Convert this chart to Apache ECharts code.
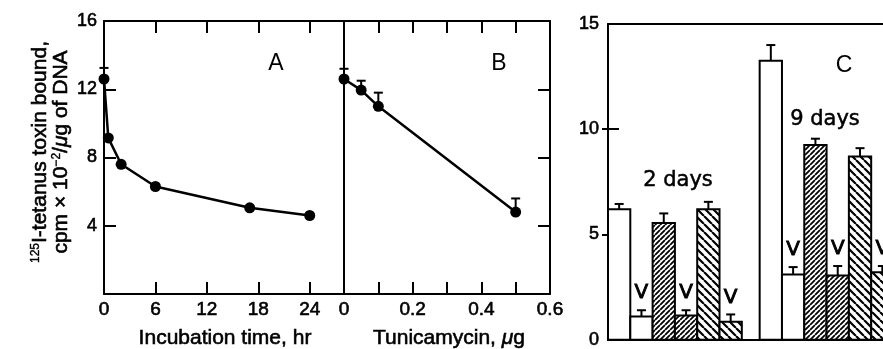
<!DOCTYPE html>
<html>
<head>
<meta charset="utf-8">
<script src="https://cdn.jsdelivr.net/npm/echarts@6/dist/echarts.min.js"></script>
<style>
  html, body { margin: 0; padding: 0; background: #fff; }
  #main { width: 883px; height: 349px; }
</style>
</head>
<body>
<div id="main"></div>
<script>
// panel A: toxin bound vs incubation time (hr)
const timeHr = [0, 0.5, 2, 6, 17, 24];
const boundA = [12.6, 9.15, 7.6, 6.3, 5.05, 4.6];
const errTopA = [13.25, null, null, null, null, null];

// panel B: toxin bound vs tunicamycin (ug)
const tunicamycinUg = [0, 0.05, 0.1, 0.5];
const boundB = [12.6, 11.95, 11.0, 4.8];
const errTopB = [13.2, 12.5, 11.8, 5.6];

// tick labels
const ticksAx = [0, 6, 12, 18, 24];
const ticksBx = [0, 0.2, 0.4, 0.6];
const ticksABy = [4, 8, 12, 16];
const ticksCy = [0, 5, 10, 15];

// panel C: bars, 2 days and 9 days
const dayGroups = ['2 days', '9 days'];
const bars2d = [6.2, 1.1, 5.55, 1.15, 6.2, 0.85];
const errTop2d = [6.45, 1.4, 6.0, 1.4, 6.55, 1.2];
const bars9d = [13.25, 3.1, 9.25, 3.05, 8.7, 3.2];
const errTop9d = [14.0, 3.45, 9.55, 3.5, 9.1, 3.5];
const barFills = ['open', 'open', 'dense', 'dense', 'sparse', 'sparse'];
const barMarks = ['', 'V', '', 'V', '', 'V'];

const FONT = '"Liberation Sans", Arial, sans-serif';
const DJ = '"DejaVu Sans", sans-serif';
const INK = '#000';
const lineStyle = { color: INK, width: 2 };
// a thin outline makes the regular face look like the heavier print
const heavy = { textBorderColor: INK, textBorderWidth: 0.6 };   // axis labels
const heavyG = { stroke: INK, lineWidth: 0.6 };                 // graphic / custom text

// hatch tiles for the bar fills
function hatch(step, width, dir) {
  const c = document.createElement('canvas');
  c.width = step; c.height = step;
  const g = c.getContext('2d');
  g.fillStyle = '#fff';
  g.fillRect(0, 0, step, step);
  g.strokeStyle = INK;
  g.lineWidth = width;
  g.beginPath();
  for (let k = -1; k <= 1; k++) {
    if (dir > 0) { g.moveTo(k * step, step); g.lineTo(k * step + step, 0); }
    else { g.moveTo(k * step, 0); g.lineTo(k * step + step, step); }
  }
  g.stroke();
  return c;
}
const fills = {
  open: '#fff',
  dense: { image: hatch(5, 1.8, 1), repeat: 'repeat' },
  sparse: { image: hatch(8, 2.2, -1), repeat: 'repeat' }
};

function xAx(grid, min, max, pos, ticks, labels) {
  return {
    gridIndex: grid, type: 'value', min: min, max: max, position: pos,
    axisLine: { show: true, onZero: false, lineStyle: lineStyle },
    axisTick: ticks ? { show: true, inside: true, length: 12, customValues: ticks, lineStyle: lineStyle } : { show: false },
    axisLabel: labels ? Object.assign({ show: true, customValues: labels, margin: 6, color: INK, fontSize: 19, fontFamily: FONT }, heavy) : { show: false },
    splitLine: { show: false }
  };
}

function yAx(grid, max, pos, line, ticks, labels, opts) {
  const o = opts || {};
  return {
    gridIndex: grid, type: 'value', min: 0, max: max, position: pos,
    axisLine: { show: line, onZero: false, lineStyle: lineStyle },
    axisTick: ticks ? { show: true, inside: !o.outside, length: o.len || 12, customValues: ticks, lineStyle: lineStyle } : { show: false },
    axisLabel: labels ? Object.assign({ show: true, customValues: labels, margin: o.margin || 7, color: INK, fontSize: 18, fontFamily: FONT,
      verticalAlignMinLabel: 'middle' }, heavy) : { show: false },
    splitLine: { show: false }
  };
}

function errorBars(xs, ys, tops, xi, yi) {
  const data = [];
  xs.forEach((x, i) => { if (tops[i] != null) data.push([x, ys[i], tops[i]]); });
  return {
    type: 'custom', xAxisIndex: xi, yAxisIndex: yi, clip: false, z: 3,
    data: data,
    renderItem: (params, api) => {
      const p = api.coord([api.value(0), api.value(1)]);
      const t = api.coord([api.value(0), api.value(2)]);
      return {
        type: 'group', children: [
          { type: 'line', shape: { x1: p[0], y1: p[1], x2: t[0], y2: t[1] }, style: { stroke: INK, lineWidth: 2 } },
          { type: 'line', shape: { x1: t[0] - 4.5, y1: t[1], x2: t[0] + 4.5, y2: t[1] }, style: { stroke: INK, lineWidth: 2 } }
        ]
      };
    }
  };
}

function pointLine(xs, ys, xi, yi) {
  return {
    type: 'line', xAxisIndex: xi, yAxisIndex: yi, clip: false, z: 4,
    data: xs.map((x, i) => [x, ys[i]]),
    symbol: 'circle', symbolSize: 11,
    lineStyle: { color: INK, width: 2.5 },
    itemStyle: { color: INK }
  };
}

// bars of panel C, one unit wide each, groups side by side
const groupStart = [0, 6.8];
const barData = [];
[[bars2d, errTop2d], [bars9d, errTop9d]].forEach((grp, g) => {
  grp[0].forEach((v, i) => barData.push([groupStart[g] + i, v, grp[1][i], i]));
});

function label(x, y, text, size, family, extra) {
  return { type: 'text', x: x, y: y,
    style: Object.assign({ text: text, fill: INK, fontSize: size, fontFamily: family, align: 'center', verticalAlign: 'middle' }, extra || {}) };
}

const chart = echarts.init(document.getElementById('main'));
chart.setOption({
  animation: false,
  backgroundColor: '#fff',
  grid: [
    { left: 104, top: 21, width: 240, height: 273 },
    { left: 344, top: 21, width: 206, height: 273 },
    { left: 608, top: 24, width: 275, height: 323 }
  ],
  xAxis: [
    xAx(0, 0, 28, 'bottom', [6, 12, 18, 24], ticksAx),
    xAx(0, 0, 28, 'top', [6, 12, 18, 24], null),
    xAx(1, 0, 0.6, 'bottom', [0.1, 0.2, 0.3, 0.4, 0.5], ticksBx),
    xAx(1, 0, 0.6, 'top', [0.1, 0.2, 0.3, 0.4, 0.5], null),
    xAx(2, 0, 12.33, 'bottom', null, null),
    xAx(2, 0, 12.33, 'top', null, null)
  ],
  yAxis: [
    yAx(0, 16, 'left', true, [4, 8, 12], ticksABy),
    yAx(1, 16, 'right', true, [4, 8, 12], null),
    yAx(1, 16, 'left', true, null, null),
    yAx(2, 15, 'left', true, [5, 10], ticksCy, { len: 11, margin: 9 }),
    yAx(2, 15, 'left', false, [5, 10], null, { len: 6, outside: true })
  ],
  series: [
    errorBars(timeHr, boundA, errTopA, 0, 0),
    pointLine(timeHr, boundA, 0, 0),
    errorBars(tunicamycinUg, boundB, errTopB, 2, 1),
    pointLine(tunicamycinUg, boundB, 2, 1),
    {
      type: 'custom', xAxisIndex: 4, yAxisIndex: 3, clip: false,
      data: barData,
      renderItem: (params, api) => {
        const x = api.value(0), v = api.value(1), top = api.value(2), k = api.value(3);
        const p0 = api.coord([x, 0]);
        const p1 = api.coord([x + 1, v]);
        const pe = api.coord([x + 0.5, top]);
        const xc = pe[0];
        const kids = [
          { type: 'rect', shape: { x: p0[0], y: p1[1], width: p1[0] - p0[0], height: p0[1] - p1[1] },
            style: { fill: fills[barFills[k]], stroke: INK, lineWidth: 2 } },
          { type: 'line', shape: { x1: xc, y1: p1[1], x2: xc, y2: pe[1] }, style: { stroke: INK, lineWidth: 2 } },
          { type: 'line', shape: { x1: xc - 4.5, y1: pe[1], x2: xc + 4.5, y2: pe[1] }, style: { stroke: INK, lineWidth: 2 } }
        ];
        if (barMarks[k]) {
          kids.push({ type: 'text', x: xc, y: pe[1] - 17,
            style: { text: barMarks[k], fill: INK, fontSize: 20, fontFamily: DJ, align: 'center', verticalAlign: 'middle', stroke: INK, lineWidth: 0.9 } });
        }
        return { type: 'group', children: kids };
      }
    }
  ],
  graphic: [
    { type: 'text', x: 51, y: 152, rotation: Math.PI / 2,
      style: {
        text: '{sup|125}I-tetanus toxin bound,\ncpm × 10{sup|−2}/{it|μ}g of DNA',
        fill: INK, fontSize: 21, fontFamily: FONT, align: 'center', verticalAlign: 'middle', lineHeight: 21,
        stroke: INK, lineWidth: 0.6,
        rich: {
          sup: { fontSize: 12, fontFamily: FONT, verticalAlign: 'top', lineHeight: 21, padding: [0, 0, 6, 0], stroke: INK, lineWidth: 0.4 },
          it: { fontSize: 21, fontFamily: FONT, fontStyle: 'italic', lineHeight: 21, stroke: INK, lineWidth: 0.6 }
        }
      } },
    label(225, 338, 'Incubation time, hr', 21, FONT, heavyG),
    label(449, 338, 'Tunicamycin, {it|μ}g', 21, FONT, Object.assign({
      rich: { it: { fontSize: 21, fontFamily: FONT, fontStyle: 'italic', stroke: INK, lineWidth: 0.6 } } }, heavyG)),
    label(276, 64, 'A', 23, FONT),
    label(499, 64, 'B', 23, FONT),
    label(844, 66, 'C', 23, FONT),
    label(678, 181, dayGroups[0], 21, DJ, { stroke: INK, lineWidth: 0.5 }),
    label(825, 120, dayGroups[1], 21, DJ, { stroke: INK, lineWidth: 0.5 })
  ]
});
</script>
</body>
</html>
